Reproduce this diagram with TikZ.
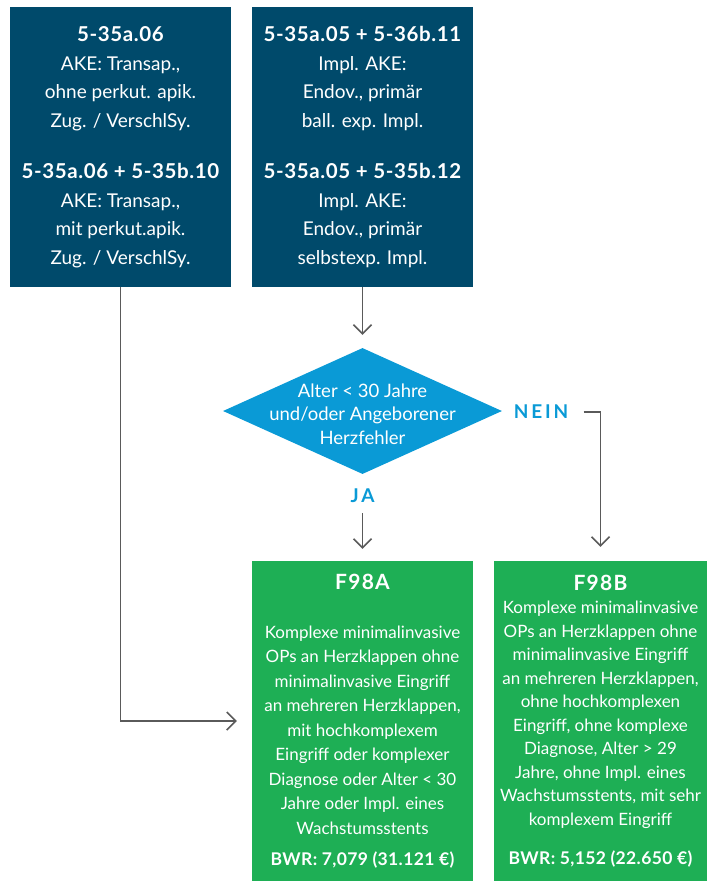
\documentclass[tikz,border=0pt]{standalone}
\usepackage{fontspec}
\setmainfont{Lato}
\usetikzlibrary{shapes.geometric,arrows.meta}
\definecolor{navy}{HTML}{004A6B}
\definecolor{sky}{HTML}{0A9AD6}
\definecolor{leaf}{HTML}{1EAF55}
\definecolor{wire}{HTML}{5A5A5A}
\newcommand\codehead[1]{{\fontsize{20.5}{28.5}\selectfont\bfseries\addfontfeature{LetterSpace=3}#1}}
\newcommand\drghead[1]{{\fontsize{21}{24.5}\selectfont\bfseries\addfontfeature{LetterSpace=6}#1}}
\newcommand\weight[1]{{\fontsize{17.5}{24.5}\selectfont\bfseries\addfontfeature{LetterSpace=2}#1}}
\begin{document}
\begin{tikzpicture}[x=1pt,y=-1pt,
  codebox/.style={fill=navy, text=white, inner sep=0pt, align=center,
    minimum width=221pt, minimum height=280pt,
    font=\fontsize{19}{28.5}\selectfont},
  drgbox/.style={fill=leaf, text=white, inner sep=0pt, align=center,
    minimum height=320pt, font=\fontsize{17}{24.5}\selectfont},
  decision/.style={diamond, fill=sky, inner sep=0pt, minimum width=279pt,
    minimum height=126pt},
  dtext/.style={text=white, align=center, font=\fontsize{18.5}{23.5}\selectfont},
  answer/.style={text=sky, font=\bfseries\fontsize{19}{20}\selectfont\addfontfeature{LetterSpace=15}},
  flow/.style={draw=wire, line width=1.5pt,
    -{Straight Barb[length=9pt, width=18pt, line width=1.5pt]}}
]
\useasboundingbox (0,0) rectangle (707,881);

% procedure code boxes
\node[codebox] (ta) at (120.5,147) {%
  \codehead{5-35a.06}\\
  AKE: Transap.,\\
  ohne perkut. apik.\\
  Zug. / VerschlSy.\\[23pt]
  \codehead{5-35a.06 + 5-35b.10}\\
  AKE: Transap.,\\
  mit perkut.apik.\\
  Zug. / VerschlSy.};

\node[codebox] (endo) at (362.5,147) {%
  \codehead{5-35a.05 + 5-36b.11}\\
  Impl. AKE:\\
  Endov., primär\\
  ball. exp. Impl.\\[23pt]
  \codehead{5-35a.05 + 5-35b.12}\\
  Impl. AKE:\\
  Endov., primär\\
  selbstexp. Impl.};

% decision
\node[decision] (dia) at (362.5,411) {};
\node[dtext] (diatext) at ([yshift=-3pt]dia.center) {Alter < 30 Jahre\\ und/oder Angeborener\\ Herzfehler};

\node[answer] (nein) at (541,412) {NEIN};
\node[answer] (ja) at (362.5,496) {JA};

% DRG result boxes
\node[drgbox, minimum width=221pt] (fa) at (362.5,721) {%
  \drghead{F98A}\\[24.5pt]
  Komplexe minimalinvasive\\
  OPs an Herzklappen ohne\\
  minimalinvasive Eingriff\\
  an mehreren Herzklappen,\\
  mit hochkomplexem\\
  Eingriff oder komplexer\\
  Diagnose oder Alter < 30\\
  Jahre oder Impl. eines\\
  Wachstumsstents\\[7pt]
  \weight{BWR: 7,079 (31.121 €)}};

\node[drgbox, minimum width=213pt, font=\fontsize{17}{23.5}\selectfont] (fb) at (600.5,721) {%
  \drghead{F98B}\\
  Komplexe minimalinvasive\\
  OPs an Herzklappen ohne\\
  minimalinvasive Eingriff\\
  an mehreren Herzklappen,\\
  ohne hochkomplexen\\
  Eingriff, ohne komplexe\\
  Diagnose, Alter > 29\\
  Jahre, ohne Impl. eines\\
  Wachstumsstents, mit sehr\\
  komplexem Eingriff\\[16pt]
  \weight{BWR: 5,152 (22.650 €)}};

% connectors
\draw[flow, shorten >=13pt] (endo.south) -- (dia.north);
\draw[flow, shorten <=17pt, shorten >=12pt] (ja.center) -- (fa.north);
\draw[flow, shorten >=14pt] ([xshift=12pt]nein.east) -| (fb.north);
\draw[flow, shorten >=15pt] (ta.south) |- (fa.west);
\end{tikzpicture}
\end{document}
